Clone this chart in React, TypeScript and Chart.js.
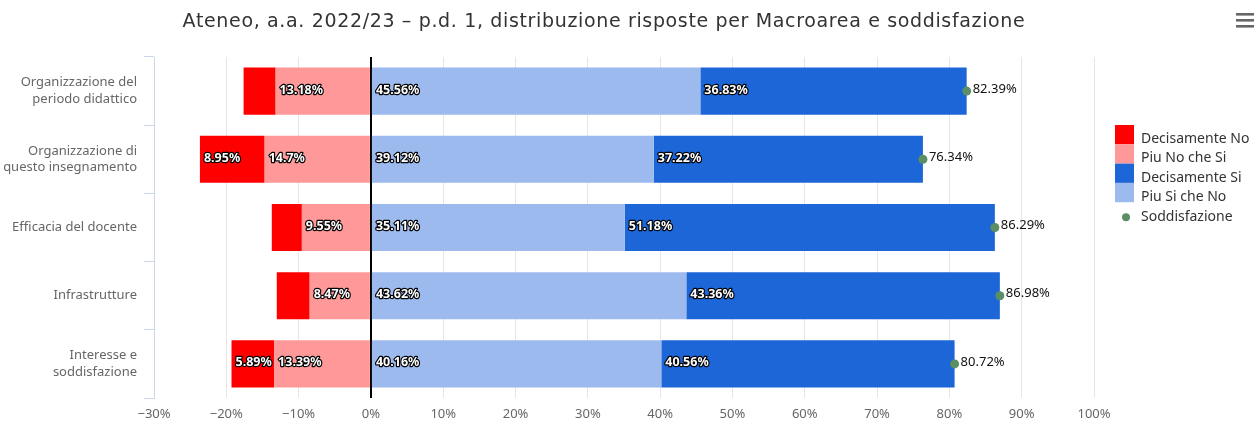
import { useEffect, useRef } from 'react';
import { Chart, registerables } from 'chart.js';

Chart.register(...registerables);

const TITLE = 'Ateneo, a.a. 2022/23 – p.d. 1, distribuzione risposte per Macroarea e soddisfazione';

const categories: (string | string[])[] = [
  ['Organizzazione del', 'periodo didattico'],
  ['Organizzazione di', 'questo insegnamento'],
  'Efficacia del docente',
  'Infrastrutture',
  ['Interesse e', 'soddisfazione'],
];

const decisamenteNo = [4.43, 8.95, 4.16, 4.55, 5.89];
const piuNoCheSi = [13.18, 14.7, 9.55, 8.47, 13.39];
const piuSiCheNo = [45.56, 39.12, 35.11, 43.62, 40.16];
const decisamenteSi = [36.83, 37.22, 51.18, 43.36, 40.56];
const soddisfazione = [82.39, 76.34, 86.29, 86.98, 80.72];

const X_MIN = -30;
const X_MAX = 100;
const X_STEP = 10;

const FONT = '"Noto Sans", "Open Sans", sans-serif';
const TITLE_FONT = '"DejaVu Sans", Verdana, sans-serif';

const COLORS = {
  dn: '#ff0000',
  pns: '#ff9999',
  ds: '#1c66d8',
  psn: '#9cbaee',
  sodd: '#5b8e64',
};

const legendOrder = ['Decisamente No', 'Piu No che Si', 'Decisamente Si', 'Piu Si che No', 'Soddisfazione'];

const extrasPlugin = {
  id: 'extras',
  afterDatasetsDraw(chart: any) {
    const ctx: CanvasRenderingContext2D = chart.ctx;
    ctx.save();
    chart.data.datasets.forEach((ds: any, di: number) => {
      const meta = chart.getDatasetMeta(di);
      if (meta.hidden) return;
      if (meta.type === 'bar') {
        meta.data.forEach((el: any, i: number) => {
          const v = Math.abs(ds.data[i]);
          if (ds.label === 'Decisamente No' && v < 5) return;
          const { x, base, y } = el.getProps(['x', 'base', 'y'], true);
          const left = Math.min(x, base) + 4;
          const text = `${v}%`;
          ctx.font = `bold 12.5px ${FONT}`;
          ctx.textAlign = 'left';
          ctx.textBaseline = 'middle';
          ctx.lineJoin = 'round';
          ctx.lineWidth = 2.4;
          ctx.strokeStyle = '#000';
          ctx.strokeText(text, left, y - 1);
          ctx.fillStyle = '#fff';
          ctx.fillText(text, left, y - 1);
        });
      } else {
        meta.data.forEach((el: any, i: number) => {
          const { x, y } = el.getProps(['x', 'y'], true);
          const text = `${ds.data[i]}%`;
          ctx.font = `13px ${FONT}`;
          ctx.textAlign = 'left';
          ctx.textBaseline = 'middle';
          ctx.fillStyle = '#111';
          ctx.fillText(text, x + 6, y - 2);
        });
      }
    });
    ctx.restore();
  },
  afterDraw(chart: any) {
    const ctx: CanvasRenderingContext2D = chart.ctx;
    ctx.save();
    // title
    ctx.font = `19px ${TITLE_FONT}`;
    (ctx as any).letterSpacing = '0.65px';
    ctx.fillStyle = '#333333';
    ctx.textAlign = 'center';
    ctx.textBaseline = 'alphabetic';
    ctx.fillText(TITLE, 604, 27);
    (ctx as any).letterSpacing = '0px';

    // menu icon
    ctx.fillStyle = '#666666';
    [13, 19, 25].forEach((yy) => ctx.fillRect(1236, yy, 18, 2.6));

    // legend
    const lx = 1115;
    let ly = 125;
    ctx.font = `14px ${FONT}`;
    ctx.textAlign = 'left';
    ctx.textBaseline = 'alphabetic';
    legendOrder.forEach((name) => {
      const ds = chart.data.datasets.find((d: any) => d.label === name);
      if (!ds) return;
      if (ds.type === 'line') {
        ctx.fillStyle = ds.backgroundColor;
        ctx.beginPath();
        ctx.arc(lx + 11, ly + 15, 4, 0, Math.PI * 2);
        ctx.fill();
        ctx.fillStyle = '#333333';
        ctx.fillText(name, lx + 26, ly + 19);
        ly += 19;
      } else {
        ctx.fillStyle = ds.backgroundColor;
        ctx.fillRect(lx, ly, 19, 19.3);
        ctx.fillStyle = '#333333';
        ctx.fillText(name, lx + 26, ly + 18);
        ly += 19.3;
      }
    });
    ctx.restore();
  },
};

export default function App() {
  const canvasRef = useRef<HTMLCanvasElement | null>(null);

  useEffect(() => {
    document.body.style.margin = '0';
    const canvas = canvasRef.current;
    if (!canvas) return;
    Chart.defaults.font.family = FONT;

    const chart = new Chart(canvas, {
      type: 'bar',
      data: {
        labels: categories as any,
        datasets: [
          {
            label: 'Piu No che Si',
            data: piuNoCheSi.map((v) => -v),
            backgroundColor: COLORS.pns,
            stack: 'risposte',
          },
          {
            label: 'Decisamente No',
            data: decisamenteNo.map((v) => -v),
            backgroundColor: COLORS.dn,
            stack: 'risposte',
          },
          {
            label: 'Piu Si che No',
            data: piuSiCheNo,
            backgroundColor: COLORS.psn,
            stack: 'risposte',
          },
          {
            label: 'Decisamente Si',
            data: decisamenteSi,
            backgroundColor: COLORS.ds,
            stack: 'risposte',
          },
          {
            type: 'line',
            label: 'Soddisfazione',
            data: soddisfazione,
            indexAxis: 'y',
            showLine: false,
            stack: 'sodd',
            order: -1,
            backgroundColor: COLORS.sodd,
            borderColor: COLORS.sodd,
            pointRadius: 4.5,
            pointBorderWidth: 0,
            pointHoverRadius: 4.5,
          } as any,
        ],
      },
      options: {
        indexAxis: 'y',
        responsive: false,
        animation: false,
        events: [],
        layout: {
          padding: { top: 57, right: 166, bottom: 0, left: 0 },
        },
        datasets: {
          bar: {
            barPercentage: 1,
            categoryPercentage: 0.69,
            borderWidth: 0,
          },
        },
        plugins: {
          legend: { display: false },
          title: { display: false },
          tooltip: { enabled: false },
        },
        scales: {
          x: {
            type: 'linear',
            stacked: true,
            min: X_MIN,
            max: X_MAX,
            ticks: {
              stepSize: X_STEP,
              color: '#666666',
              font: { size: 13, family: FONT },
              padding: 8,
              callback: (v: any) => `${String(v).replace('-', '\u2212')}%`,
            },
            grid: {
              drawTicks: false,
              color: (c: any) =>
                c.tick && c.tick.value === 0 ? '#000000' : c.tick && c.tick.value === X_MIN ? 'rgba(0,0,0,0)' : '#e6e6e6',
              lineWidth: (c: any) => (c.tick && c.tick.value === 0 ? 2 : 1),
            },
            border: { display: false },
            afterFit: (scale: any) => {
              scale.height = 28;
            },
          },
          y: {
            type: 'category',
            stacked: true,
            offset: true,
            ticks: {
              color: '#666666',
              font: { size: 13, family: FONT, lineHeight: 1.28 },
              padding: 7,
            },
            grid: {
              offset: true,
              drawOnChartArea: false,
              drawTicks: true,
              tickLength: 10,
              color: '#ccd6eb',
            },
            border: { display: true, color: '#ccd6eb', width: 1 },
            afterFit: (scale: any) => {
              scale.width = 154;
            },
          },
        },
      },
      plugins: [extrasPlugin],
    });

    return () => chart.destroy();
  }, []);

  return (
    <div style={{ width: 1260, height: 426, background: '#fff' }}>
      <canvas ref={canvasRef} width={1260} height={426} style={{ display: 'block' }} />
    </div>
  );
}
